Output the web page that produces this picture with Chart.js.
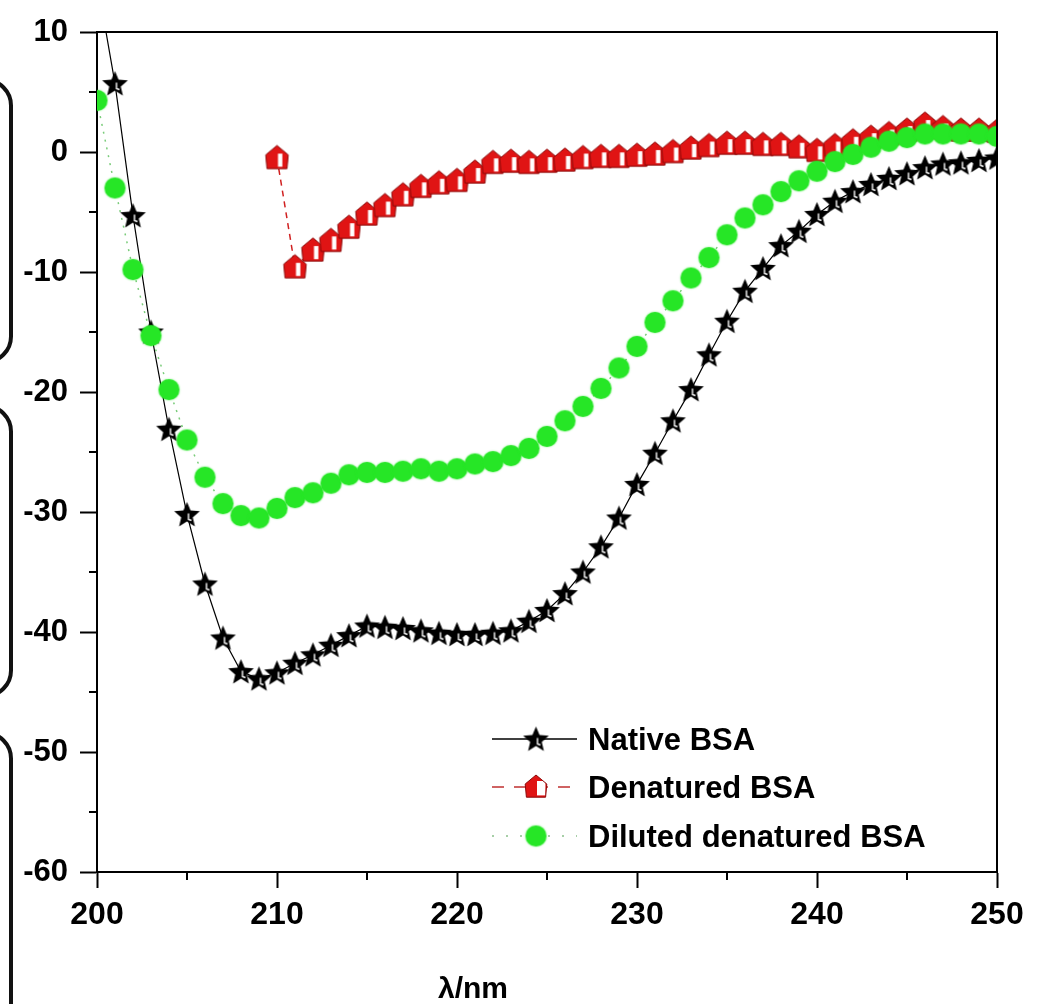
<!DOCTYPE html>
<html>
<head>
<meta charset="utf-8">
<script src="https://cdn.jsdelivr.net/npm/chart.js@4.4.1/dist/chart.umd.min.js"></script>
<style>
  html, body { margin: 0; padding: 0; background: #fff; }
  #wrap { width: 1038px; height: 1004px; position: relative; }
</style>
</head>
<body>
<div id="wrap"><canvas id="cd"></canvas></div>
<script>
// wavelength grid (nm)
const nm = [200,201,202,203,204,205,206,207,208,209,210,211,212,213,214,215,216,217,218,219,220,
  221,222,223,224,225,226,227,228,229,230,231,232,233,234,235,236,237,238,239,240,
  241,242,243,244,245,246,247,248,249,250];

// CD signal per series
const nativeBSA = [14.3,5.7,-5.3,-15.0,-23.1,-30.2,-36.0,-40.5,-43.3,-43.9,-43.4,-42.6,-41.9,-41.1,-40.3,-39.5,-39.6,-39.7,-39.9,-40.1,-40.2,
  -40.2,-40.1,-39.9,-39.1,-38.2,-36.8,-35.0,-32.9,-30.5,-27.7,-25.1,-22.4,-19.8,-16.9,-14.1,-11.6,-9.7,-7.8,-6.6,-5.2,
  -4.1,-3.3,-2.7,-2.2,-1.8,-1.3,-1.0,-0.9,-0.7,-0.5];
const denaturedBSA = [null,null,null,null,null,null,null,null,null,null,-0.5,-9.6,-8.2,-7.4,-6.3,-5.2,-4.5,-3.6,-2.9,-2.6,-2.4,
  -1.7,-0.9,-0.8,-0.9,-0.8,-0.7,-0.5,-0.4,-0.4,-0.3,-0.2,0.0,0.3,0.5,0.7,0.7,0.6,0.6,0.4,0.1,
  0.5,0.9,1.2,1.5,1.8,2.3,2.0,1.8,1.8,1.7];
const dilutedBSA = [4.3,-3.0,-9.8,-15.3,-19.8,-24.0,-27.1,-29.3,-30.3,-30.5,-29.7,-28.8,-28.4,-27.6,-26.9,-26.7,-26.7,-26.6,-26.4,-26.6,-26.4,
  -26.0,-25.8,-25.3,-24.7,-23.7,-22.4,-21.2,-19.7,-18.0,-16.2,-14.2,-12.4,-10.5,-8.8,-6.9,-5.5,-4.4,-3.3,-2.4,-1.6,
  -0.8,-0.2,0.4,0.9,1.2,1.5,1.5,1.5,1.5,1.3];

const seriesNames = ['Native BSA', 'Denatured BSA', 'Diluted denatured BSA'];
const xMinorTicks = [205, 215, 225, 235, 245];
const yMinorTicks = [5, -5, -15, -25, -35, -45, -55];
const xTitle = 'λ/nm';

const FONT = '"Liberation Sans", Arial, sans-serif';

function pts(vals) {
  const out = [];
  vals.forEach((v, i) => { if (v !== null) out.push({ x: nm[i], y: v }); });
  return out;
}

// marker images
function starMarker(r) {
  const s = Math.ceil(r * 2 + 4), c = document.createElement('canvas');
  c.width = s; c.height = s;
  const g = c.getContext('2d'), cx = s / 2, cy = s / 2 + 1;
  g.beginPath();
  for (let i = 0; i < 10; i++) {
    const a = -Math.PI / 2 + i * Math.PI / 5, rr = i % 2 ? r * 0.45 : r;
    const px = cx + rr * Math.cos(a), py = cy + rr * Math.sin(a);
    i ? g.lineTo(px, py) : g.moveTo(px, py);
  }
  g.closePath();
  g.fillStyle = '#000'; g.fill();
  g.strokeStyle = '#fff'; g.lineWidth = 1.4;
  g.beginPath();
  g.moveTo(cx + 1.5, cy - 2); g.lineTo(cx + 1.5, cy + 4); g.lineTo(cx + 4.5, cy + 5);
  g.stroke();
  return c;
}
function pentMarker(r, legend) {
  const s = Math.ceil(r * 2 + 4), c = document.createElement('canvas');
  c.width = s; c.height = s;
  const g = c.getContext('2d'), cx = s / 2, cy = s / 2;
  const path = () => {
    g.beginPath();
    g.moveTo(cx, cy - r);
    g.lineTo(cx + r * 0.9, cy - r * 0.25);
    g.lineTo(cx + r * 0.8, cy + r * 0.85);
    g.lineTo(cx - r * 0.8, cy + r * 0.85);
    g.lineTo(cx - r * 0.9, cy - r * 0.25);
    g.closePath();
  };
  path(); g.fillStyle = '#e01414'; g.fill();
  g.fillStyle = '#fff';
  if (legend) {
    g.fillRect(cx + 1, cy - r * 0.5, r * 0.7, r * 1.2);
  } else {
    g.fillRect(cx + 1, cy - r * 0.35, r * 0.35, r * 1.05);
  }
  path(); g.strokeStyle = '#8a0a0a'; g.lineWidth = 1; g.stroke();
  return c;
}
function dotMarker(r) {
  const s = Math.ceil(r * 2 + 6), c = document.createElement('canvas');
  c.width = s; c.height = s;
  const g = c.getContext('2d');
  g.shadowColor = 'rgba(40,230,40,0.6)'; g.shadowBlur = 2;
  g.beginPath(); g.arc(s / 2, s / 2, r, 0, Math.PI * 2);
  g.fillStyle = '#26e626'; g.fill();
  return c;
}
const starImg = starMarker(13.5);
const pentImg = pentMarker(12.5, false);
const pentLegendImg = pentMarker(12, true);
const dotImg = dotMarker(10.5);

// frame, minor ticks, legend, axis title and side brackets
const decor = {
  id: 'decor',
  afterDraw(chart) {
    const { ctx, chartArea: a, scales: { x, y } } = chart;
    ctx.save();
    ctx.strokeStyle = '#000'; ctx.lineWidth = 2;
    ctx.beginPath();
    ctx.moveTo(a.left, a.top); ctx.lineTo(a.right, a.top); ctx.lineTo(a.right, a.bottom);
    ctx.stroke();
    ctx.lineWidth = 2;
    xMinorTicks.forEach(v => {
      const px = x.getPixelForValue(v);
      ctx.beginPath(); ctx.moveTo(px, a.bottom); ctx.lineTo(px, a.bottom + 8); ctx.stroke();
    });
    yMinorTicks.forEach(v => {
      const py = y.getPixelForValue(v);
      ctx.beginPath(); ctx.moveTo(a.left, py); ctx.lineTo(a.left - 8, py); ctx.stroke();
    });

    // legend
    const lx0 = 492, lx1 = 577, mx = 536, tx = 588;
    const rows = [
      { yy: 739, dash: [], col: '#000', w: 1.5, img: starImg },
      { yy: 787, dash: [12, 10], col: '#c03030', w: 1.5, img: pentLegendImg },
      { yy: 836, dash: [2, 12], col: '#8ac08a', w: 1.5, img: dotImg }
    ];
    rows.forEach((r, i) => {
      ctx.save();
      ctx.setLineDash(r.dash); ctx.strokeStyle = r.col; ctx.lineWidth = r.w;
      ctx.beginPath(); ctx.moveTo(lx0, r.yy); ctx.lineTo(lx1, r.yy); ctx.stroke();
      ctx.restore();
      ctx.drawImage(r.img, mx - r.img.width / 2, r.yy - r.img.height / 2);
      ctx.fillStyle = '#000';
      ctx.font = 'bold 31px ' + FONT;
      ctx.textBaseline = 'alphabetic'; ctx.textAlign = 'left';
      ctx.fillText(seriesNames[i], tx, r.yy + 11);
    });

    // x axis title
    ctx.font = 'bold 30px ' + FONT;
    ctx.textAlign = 'center';
    ctx.fillText(xTitle, 473, 998);

    // brackets on the left edge
    ctx.lineWidth = 4; ctx.strokeStyle = '#111';
    [[80, 282], [406, 290], [733, 330]].forEach(([t, h]) => {
      ctx.beginPath(); ctx.roundRect(-40, t, 51, h, 34); ctx.stroke();
    });
    ctx.restore();
  }
};

const baseLine = { showLine: true, clip: 0, pointHoverRadius: 0 };

new Chart(document.getElementById('cd'), {
  type: 'scatter',
  data: {
    datasets: [
      Object.assign({}, baseLine, {
        label: seriesNames[0], data: pts(nativeBSA), order: 2,
        borderColor: '#000', borderWidth: 1.2, pointStyle: starImg
      }),
      Object.assign({}, baseLine, {
        label: seriesNames[1], data: pts(denaturedBSA), order: 1,
        borderColor: '#d02020', borderWidth: 1.5, borderDash: [6, 5], pointStyle: pentImg
      }),
      Object.assign({}, baseLine, {
        label: seriesNames[2], data: pts(dilutedBSA), order: 0,
        borderColor: '#7acc7a', borderWidth: 1.5, borderDash: [2, 6], pointStyle: dotImg
      })
    ]
  },
  options: {
    responsive: true,
    maintainAspectRatio: false,
    animation: false,
    events: [],
    layout: { padding: { left: 0, top: 32, right: 41, bottom: 0 } },
    plugins: { legend: { display: false }, tooltip: { enabled: false } },
    scales: {
      x: {
        type: 'linear', min: 200, max: 250,
        afterFit: s => { s.height = 132; },
        border: { display: true, color: '#000', width: 2 },
        grid: { drawOnChartArea: false, drawTicks: true, tickLength: 16, tickWidth: 2, tickColor: '#000' },
        ticks: { stepSize: 10, padding: 8, color: '#000', font: { family: FONT, size: 32, weight: 'bold' } }
      },
      y: {
        type: 'linear', min: -60, max: 10,
        afterFit: s => { s.width = 97; },
        border: { display: true, color: '#000', width: 2 },
        grid: { drawOnChartArea: false, drawTicks: true, tickLength: 17, tickWidth: 2, tickColor: '#000' },
        ticks: { stepSize: 10, padding: 12, color: '#000', font: { family: FONT, size: 31, weight: 'bold' } }
      }
    }
  },
  plugins: [decor]
});
</script>
</body>
</html>
